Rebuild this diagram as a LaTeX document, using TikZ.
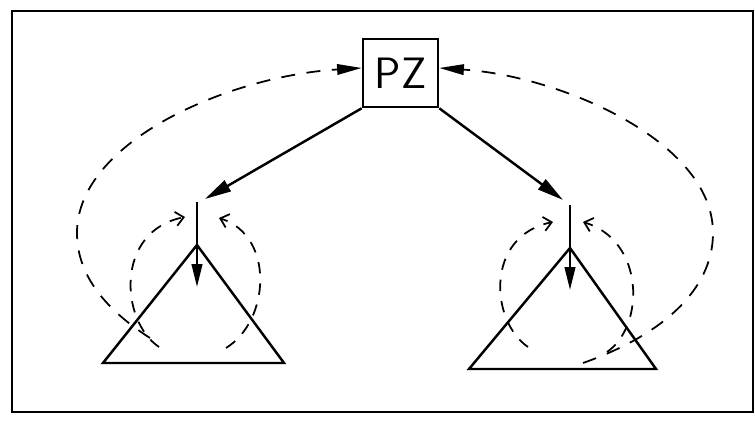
\documentclass[tikz,border=0pt]{standalone}
\usetikzlibrary{arrows.meta}

\begin{document}
\begin{tikzpicture}[
    x=0.02cm, y=0.02cm,
    font=\sffamily,
    % Styles
    box_node/.style={draw, line width=1.5pt, minimum width=1.5cm, minimum height=1.36cm, inner sep=0pt, font=\sffamily\fontsize{25}{29}\selectfont},
    frame_line/.style={line width=1.6pt},
    tree_edge/.style={line width=1.4pt, line join=miter},
    call_arrow/.style={line width=1.4pt, -{Triangle[length=15pt, width=7pt]}},
    down_arrow/.style={line width=1.4pt, -{Triangle[length=13pt, width=6pt]}},
    return_arrow/.style={line width=1pt, dash pattern=on 2.8mm off 2.3mm, -{Triangle[length=14pt, width=6pt]}},
    loop_arrow/.style={line width=1pt, dash pattern=on 2.3mm off 2mm, -{Straight Barb[length=4.5pt, width=8pt]}}
]
    \useasboundingbox (0,0) rectangle (755,421);

    % ==========================================
    % 1. FRAME
    % ==========================================
    \draw[frame_line] (12,9) rectangle (753,410);

    % ==========================================
    % 2. ROOT BOX
    % ==========================================
    \node[box_node] (PZ) at (400.5,348) {PZ};
    \coordinate (PZ_in_L) at ([yshift=0.1cm]PZ.west);
    \coordinate (PZ_in_R) at ([yshift=0.1cm]PZ.east);

    % ==========================================
    % 3. COORDINATES OF THE TWO SUBTREES
    % ==========================================
    % Left subtree
    \coordinate (L_hook) at (205,222);
    \coordinate (L_top)  at (197,219);
    \coordinate (L_apex) at (197,176);
    \coordinate (L_tip)  at (197,134);
    \coordinate (L_bl)   at (103,58);
    \coordinate (L_br)   at (284,58);

    % Right subtree
    \coordinate (R_hook) at (563,221);
    \coordinate (R_top)  at (570,216);
    \coordinate (R_apex) at (570,173);
    \coordinate (R_tip)  at (570,131);
    \coordinate (R_bl)   at (469,52);
    \coordinate (R_br)   at (656,52);

    % ==========================================
    % 4. TREES
    % ==========================================
    \draw[call_arrow] (PZ.south west) -- (L_hook);
    \draw[call_arrow] (PZ.south east) -- (R_hook);

    \draw[tree_edge] (L_top) -- (L_apex);
    \draw[tree_edge] (L_apex) -- (L_bl) -- (L_br) -- cycle;
    \draw[down_arrow] (L_apex) -- (L_tip);

    \draw[tree_edge] (R_top) -- (R_apex);
    \draw[tree_edge] (R_apex) -- (R_bl) -- (R_br) -- cycle;
    \draw[down_arrow] (R_apex) -- (R_tip);

    % ==========================================
    % 5. DASHED LOOPS
    % ==========================================
    % inner loops back to the stems
    \draw[loop_arrow] (159,74) .. controls (120,100) and (115,190) .. (185,204);
    \draw[loop_arrow] (226,73) .. controls (270,100) and (275,185) .. (219,203);
    \draw[loop_arrow] (528,74) .. controls (490,100) and (485,185) .. (553,199);
    \draw[loop_arrow] (607,69) .. controls (645,95) and (645,180) .. (583,199);

    % outer loops back to PZ
    \draw[return_arrow] (150,83) .. controls (100,115) and (77,150) .. (77,188)
        .. controls (77,280) and (230,345) .. (PZ_in_L);
    \draw[return_arrow] (583,58) .. controls (660,85) and (713,130) .. (713,188)
        .. controls (713,280) and (560,345) .. (PZ_in_R);

\end{tikzpicture}
\end{document}
